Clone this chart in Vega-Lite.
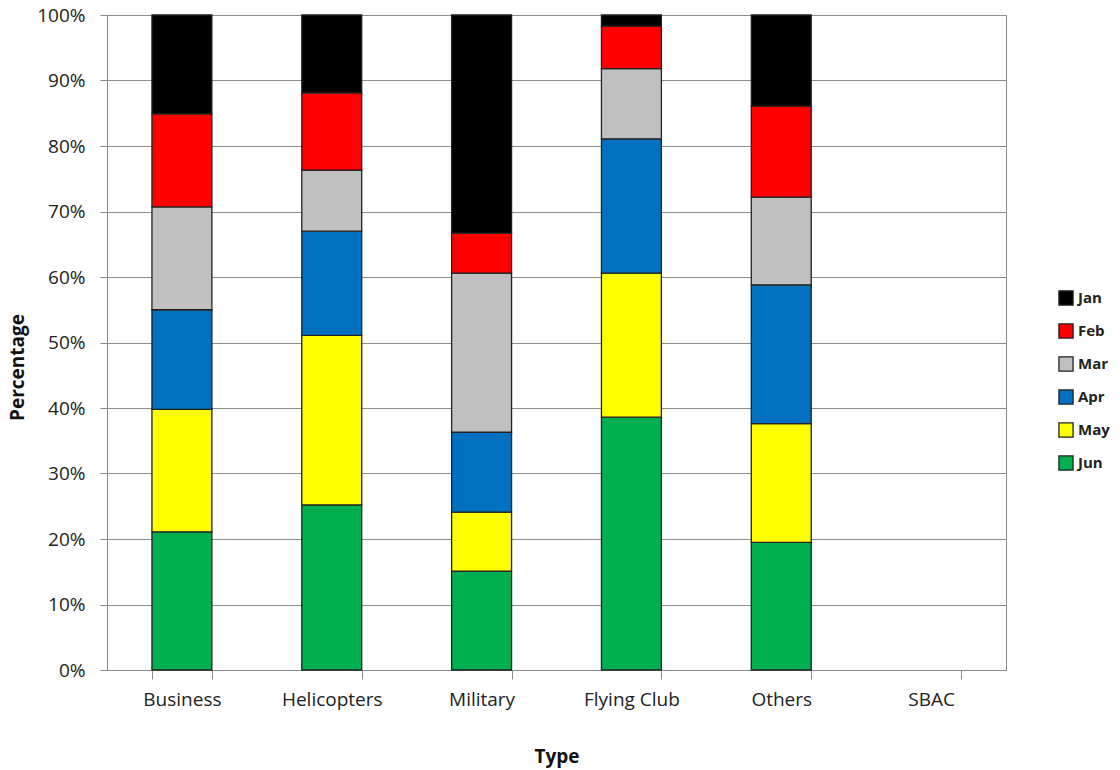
{
  "$schema": "https://vega.github.io/schema/vega-lite/v6.json",
  "width": 899,
  "height": 655,
  "autosize": {"type": "none"},
  "padding": {"left": 107, "top": 15, "right": 114, "bottom": 100},
  "background": "white",
  "config": {
    "font": "Open Sans",
    "view": {"stroke": "#888888", "strokeWidth": 1}
  },
  "data": {
    "values": [
      {"type": "Business", "month": "Jun", "m": 6, "pct": 21.1},
      {"type": "Business", "month": "May", "m": 5, "pct": 18.7},
      {"type": "Business", "month": "Apr", "m": 4, "pct": 15.2},
      {"type": "Business", "month": "Mar", "m": 3, "pct": 15.7},
      {"type": "Business", "month": "Feb", "m": 2, "pct": 14.2},
      {"type": "Business", "month": "Jan", "m": 1, "pct": 15.1},
      {"type": "Helicopters", "month": "Jun", "m": 6, "pct": 25.2},
      {"type": "Helicopters", "month": "May", "m": 5, "pct": 25.9},
      {"type": "Helicopters", "month": "Apr", "m": 4, "pct": 15.9},
      {"type": "Helicopters", "month": "Mar", "m": 3, "pct": 9.3},
      {"type": "Helicopters", "month": "Feb", "m": 2, "pct": 11.8},
      {"type": "Helicopters", "month": "Jan", "m": 1, "pct": 11.9},
      {"type": "Military", "month": "Jun", "m": 6, "pct": 15.1},
      {"type": "Military", "month": "May", "m": 5, "pct": 9.0},
      {"type": "Military", "month": "Apr", "m": 4, "pct": 12.2},
      {"type": "Military", "month": "Mar", "m": 3, "pct": 24.3},
      {"type": "Military", "month": "Feb", "m": 2, "pct": 6.1},
      {"type": "Military", "month": "Jan", "m": 1, "pct": 33.3},
      {"type": "Flying Club", "month": "Jun", "m": 6, "pct": 38.6},
      {"type": "Flying Club", "month": "May", "m": 5, "pct": 22.0},
      {"type": "Flying Club", "month": "Apr", "m": 4, "pct": 20.5},
      {"type": "Flying Club", "month": "Mar", "m": 3, "pct": 10.7},
      {"type": "Flying Club", "month": "Feb", "m": 2, "pct": 6.5},
      {"type": "Flying Club", "month": "Jan", "m": 1, "pct": 1.7},
      {"type": "Others", "month": "Jun", "m": 6, "pct": 19.5},
      {"type": "Others", "month": "May", "m": 5, "pct": 18.1},
      {"type": "Others", "month": "Apr", "m": 4, "pct": 21.2},
      {"type": "Others", "month": "Mar", "m": 3, "pct": 13.4},
      {"type": "Others", "month": "Feb", "m": 2, "pct": 13.9},
      {"type": "Others", "month": "Jan", "m": 1, "pct": 13.9}
    ]
  },
  "mark": {"type": "bar", "stroke": "#222222", "strokeWidth": 1.3},
  "encoding": {
    "x": {
      "field": "type",
      "type": "nominal",
      "scale": {
        "domain": ["Business", "Helicopters", "Military", "Flying Club", "Others", "SBAC"],
        "paddingInner": 0.6,
        "paddingOuter": 0.3
      },
      "axis": {
        "title": "Type",
        "titleFontSize": 19,
        "titleFontWeight": "bold",
        "titleColor": "#111111",
        "titlePadding": 38,
        "labelAngle": 0,
        "labelFontSize": 19,
        "labelColor": "#222222",
        "labelPadding": 11,
        "tickBand": "extent",
        "tickSize": 9,
        "tickColor": "#888888",
        "domainColor": "#888888",
        "grid": false
      }
    },
    "y": {
      "field": "pct",
      "type": "quantitative",
      "stack": "normalize",
      "scale": {"domain": [0, 1]},
      "axis": {
        "title": "Percentage",
        "titleFontSize": 19,
        "titleFontWeight": "bold",
        "titleColor": "#111111",
        "titlePadding": 9,
        "titleY": 352,
        "format": ".0%",
        "values": [0, 0.1, 0.2, 0.3, 0.4, 0.5, 0.6, 0.7, 0.8, 0.9, 1.0],
        "labelFontSize": 19,
        "labelColor": "#222222",
        "labelPadding": 15,
        "tickSize": 7,
        "tickColor": "#888888",
        "domainColor": "#888888",
        "grid": true,
        "gridColor": "#8c8c8c",
        "gridWidth": 1
      }
    },
    "order": {"field": "m", "type": "quantitative", "sort": "descending"},
    "color": {
      "field": "month",
      "type": "nominal",
      "scale": {
        "domain": ["Jan", "Feb", "Mar", "Apr", "May", "Jun"],
        "range": ["#000000", "#FF0000", "#C0C0C0", "#0070C0", "#FFFF00", "#00B050"]
      },
      "legend": {
        "title": null,
        "orient": "none",
        "legendX": 951,
        "legendY": 275,
        "symbolType": "square",
        "symbolSize": 200,
        "symbolStrokeColor": "#222222",
        "symbolStrokeWidth": 1.3,
        "labelFontSize": 15,
        "labelFontWeight": "bold",
        "labelColor": "#222222",
        "rowPadding": 13
      }
    }
  }
}
